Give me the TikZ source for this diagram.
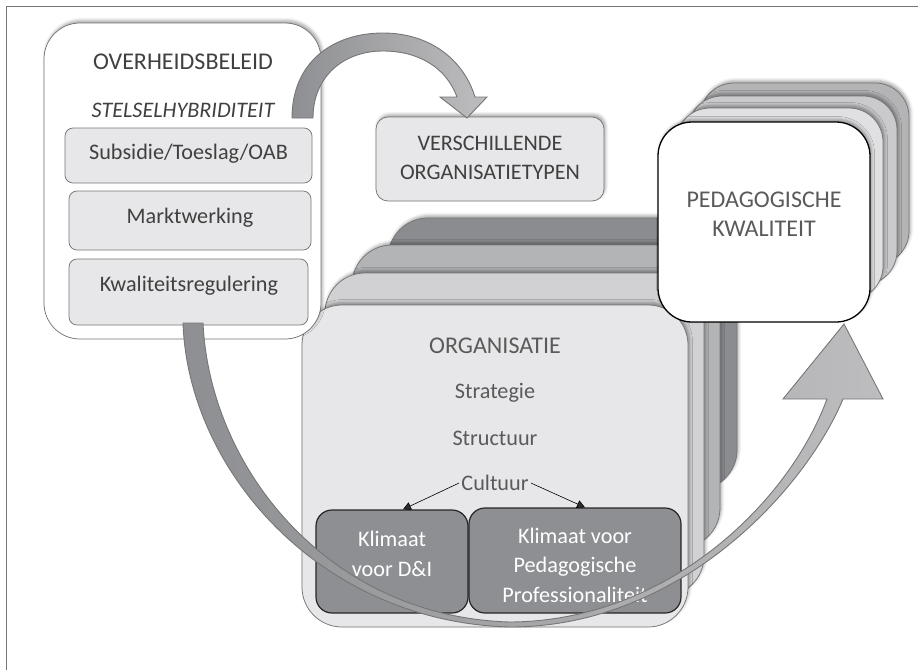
\documentclass[tikz,border=0pt]{standalone}
\usepackage{fontspec}
\setmainfont{Carlito}
\usetikzlibrary{arrows.meta,shadows.blur}

\definecolor{txtdark}{HTML}{404040}
\definecolor{txtmid}{HTML}{5A5A5A}
\definecolor{boxfill}{HTML}{E7E7E9}
\definecolor{boxline}{HTML}{767676}
\definecolor{orgA}{HTML}{8B8C90}
\definecolor{orgB}{HTML}{B3B4B6}
\definecolor{orgC}{HTML}{D1D1D3}
\definecolor{klimfill}{HTML}{8E8F93}
\definecolor{pedA}{HTML}{B4B4B6}
\definecolor{pedB}{HTML}{CACACC}
\definecolor{pedC}{HTML}{E0E0E2}
\definecolor{arrowdark}{HTML}{8E8F92}
\definecolor{arrowlight}{HTML}{BDBDBF}

\tikzset{every picture/.style={line width=0.75pt}}
\tikzset{
  softshadow/.style={blur shadow={shadow xshift=1.5pt,shadow yshift=2.5pt,shadow blur radius=3pt,shadow opacity=35}},
  subbox/.style={draw=boxline,fill=boxfill,rounded corners=8pt},
  klimbox/.style={draw=black!85,fill=klimfill,rounded corners=16pt,line width=1.2pt,inner sep=0pt},
  layer/.style={draw=boxline,rounded corners=40pt,softshadow},
  pedlayer/.style={draw=boxline,rounded corners=34pt,softshadow},
  titletxt/.style={font=\fontsize{24}{29.5}\selectfont,inner sep=0pt,align=center},
  plaintxt/.style={font=\fontsize{22.2}{29.5}\selectfont,inner sep=0pt,align=center},
  bigarrow/.style={draw=boxline,line width=0.9pt,left color=arrowdark,right color=arrowlight},
}

\begin{document}
\begin{tikzpicture}[x=1pt,y=1pt,yscale=-1]
	\useasboundingbox (0,0) rectangle (918,670);
	
	%Frame
	\draw [boxline, line width=1pt] (6,670) -- (6,6) -- (918,6) ;
	
	%Organisatie stack
	\draw [layer, fill=orgA] (388,218) rectangle (737,490) ;
	\draw [layer, fill=orgB] (352,245) rectangle (720,548) ;
	\draw [layer, fill=orgC] (325,273) rectangle (704,596) ;
	\draw [layer, fill=boxfill] (302,305) rectangle (688,627) ;
	
	%Pedagogische kwaliteit stack
	\draw [pedlayer, fill=pedA] (700,83) rectangle (909,265) ;
	\draw [pedlayer, fill=pedB] (688,96) rectangle (897,285) ;
	\draw [pedlayer, fill=pedC] (676,108) rectangle (883,300) ;
	\draw [pedlayer, fill=white, draw=black, line width=1.3pt] (658,122) rectangle (870,322) ;
	
	%Overheidsbeleid box
	\draw [draw=boxline, fill=white, rounded corners=36pt, softshadow] (44,23) rectangle (321,339) ;
	\draw [subbox] (65,128) rectangle (312,183) ;
	\draw [subbox] (69,191) rectangle (311,250) ;
	\draw [subbox] (69,259) rectangle (308,325) ;
	
	%Organisatietypen box
	\draw [subbox, rounded corners=12pt, softshadow] (376,117) rectangle (604,201) ;
	
	%Klimaat boxes
	\node [klimbox, minimum width=152pt, minimum height=103pt] (dni) at (392,561.5) {};
	\node [klimbox, minimum width=212pt, minimum height=105pt] (pedprof) at (575,560.5) {};
	
	% Text Node
	\node [titletxt, text=txtdark] (overheid) at (183,62) {OVERHEIDSBELEID};
	% Text Node
	\node [plaintxt, text=txtdark, font=\fontsize{22.2}{29.5}\selectfont\itshape] (stelsel) at (183,110) {STELSELHYBRIDITEIT};
	% Text Node
	\node [plaintxt, text=txtdark] (subsidie) at (188.5,154) {Subsidie/Toeslag/OAB};
	% Text Node
	\node [plaintxt, text=txtdark] (markt) at (190,218) {Marktwerking};
	% Text Node
	\node [plaintxt, text=txtdark] (kwal) at (189,286) {Kwaliteitsregulering};
	% Text Node
	\node [plaintxt, text=txtdark] (typen) at (490,158) {VERSCHILLENDE\\ORGANISATIETYPEN};
	% Text Node
	\node [titletxt, text=txtmid] (pedkwal) at (764,214) {PEDAGOGISCHE\\KWALITEIT};
	% Text Node
	\node [titletxt, text=txtmid] (org) at (495,346) {ORGANISATIE};
	% Text Node
	\node [plaintxt, text=txtmid] (strategie) at (495,393) {Strategie};
	% Text Node
	\node [plaintxt, text=txtmid] (structuur) at (495,438) {Structuur};
	% Text Node
	\node [plaintxt, text=txtmid, inner sep=2pt] (cultuur) at (495,483) {Cultuur};
	% Text Node
	\node [plaintxt, text=white] (dnitxt) at (392,554) {Klimaat\\voor D\&I};
	% Text Node
	\node [plaintxt, text=white] (pedproftxt) at (575,565) {Klimaat voor\\Pedagogische\\Professionaliteit};
	
	%Cultuur arrows
	\draw [-{Triangle[length=8pt,width=8pt]}, line width=0.6pt] (cultuur.west) -- ([xshift=11pt]dni.north) ;
	\draw [-{Triangle[length=8pt,width=8pt]}, line width=0.6pt] (cultuur.east) -- ([xshift=10pt]pedprof.north) ;
	
	%Curved arrow to organisatietypen
	\draw [bigarrow] (292,118) .. controls (292,62) and (333,33) .. (383,33)
		.. controls (428,33) and (463,58) .. (475,97)
		-- (487,97) -- (467,118) -- (440,97) -- (457,97)
		.. controls (446,67) and (418,51) .. (383,51)
		.. controls (343,51) and (313,77) .. (313,118) -- cycle ;
	
	%Curved arrow to pedagogische kwaliteit
	\draw [bigarrow] (183,323) .. controls (188,470) and (320,622) .. (510,627)
		.. controls (680,627) and (805,490) .. (843,399)
		-- (883,399) -- (844,324) -- (783,399) -- (827,399)
		.. controls (790,500) and (670,621) .. (510,622)
		.. controls (330,617) and (210,470) .. (203,323) -- cycle ;
	
\end{tikzpicture}
\end{document}
